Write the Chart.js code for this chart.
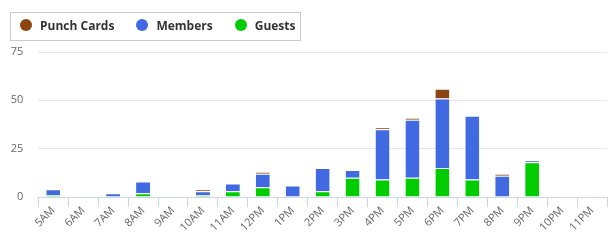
<!DOCTYPE html>
<html><head><meta charset="utf-8">
<script src="https://cdn.jsdelivr.net/npm/chart.js@4"></script>
<style>
html,body{margin:0;padding:0;background:#fff;}
#wrap{position:relative;width:614px;height:248px;}
#legend{position:absolute;left:10px;top:12px;width:291px;height:29px;box-sizing:border-box;border:1px solid #cccccc;display:flex;align-items:center;padding:0 0 3px 9px;font:bold 12px "Open Sans";color:#333333;}
.item{display:flex;align-items:center;margin-right:22px;white-space:nowrap;}
.dot{width:12px;height:12px;border-radius:50%;margin-right:8px;flex:none;}
</style></head>
<body><div id="wrap"><canvas id="c" width="614" height="248"></canvas><div id="legend"></div></div>
<script>
const categories = ['5AM','6AM','7AM','8AM','9AM','10AM','11AM','12PM','1PM','2PM','3PM','4PM','5PM','6PM','7PM','8PM','9PM','10PM','11PM'];
const guests     = [1, 0, 0, 2, 0, 1, 3, 5, 0, 3, 10, 9, 10, 15, 9, 0, 18, 0, 0];
const members    = [3, 0, 2, 6, 0, 2, 4, 7, 6, 12, 4, 26, 30, 36, 33, 11, 1, 0, 0];
const punchCards = [0, 0, 0, 0, 0, 1, 0, 1, 0, 0, 0, 1, 1, 5, 0, 1, 0, 0, 0];
const yTicks = [0, 25, 50, 75];
const legendOrder = ['Punch Cards', 'Members', 'Guests'];

const datasets = [
  {label: 'Guests', data: guests, backgroundColor: '#00cc00'},
  {label: 'Members', data: members, backgroundColor: '#4169e1'},
  {label: 'Punch Cards', data: punchCards, backgroundColor: '#8b4513'}
].map(d => Object.assign(d, {
  borderColor: '#ffffff',
  borderWidth: {top: 1, left: 0, right: 0, bottom: 0},
  borderSkipped: 'start',
  barPercentage: 14 / 30,
  categoryPercentage: 1
}));

const font11 = {family: '"Open Sans"', size: 11};

const chart = new Chart(document.getElementById('c'), {
  type: 'bar',
  data: {labels: categories, datasets},
  options: {
    responsive: false,
    devicePixelRatio: 1,
    animation: false,
    layout: {padding: {left: 0, right: 7, top: 52, bottom: 0}},
    plugins: {legend: {display: false}, tooltip: {enabled: false}},
    scales: {
      x: {
        stacked: true,
        offset: true,
        grid: {display: true, drawOnChartArea: false, drawTicks: true, tickLength: 10, color: '#ccd6eb', offset: true},
        border: {display: true, color: '#ccd6eb', width: 1},
        ticks: {color: '#666666', font: font11, minRotation: 45, maxRotation: 45, autoSkip: false, padding: -3},
        afterFit: s => { s.height = 51; }
      },
      y: {
        stacked: true,
        min: 0, max: 75,
        afterBuildTicks: s => { s.ticks = yTicks.map(v => ({value: v})); },
        grid: {color: '#e6e6e6', drawTicks: false},
        border: {display: false},
        ticks: {color: '#666666', font: font11, padding: 15},
        afterFit: s => { s.width = 38.3; }
      }
    }
  }
});

const leg = document.getElementById('legend');
legendOrder.forEach(name => {
  const ds = chart.data.datasets.find(d => d.label === name);
  const it = document.createElement('div'); it.className = 'item';
  const dot = document.createElement('span'); dot.className = 'dot'; dot.style.background = ds.backgroundColor;
  const tx = document.createElement('span'); tx.textContent = name;
  it.appendChild(dot); it.appendChild(tx); leg.appendChild(it);
});
</script>
</body></html>
